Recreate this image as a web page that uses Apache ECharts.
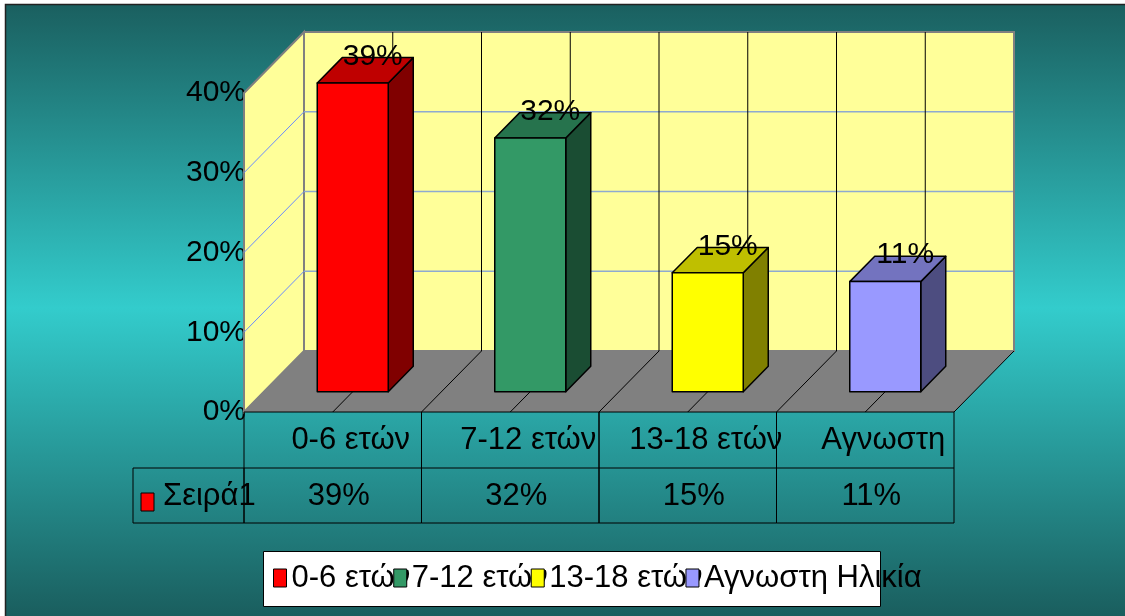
<!DOCTYPE html>
<html>
<head>
<meta charset="utf-8">
<script src="https://cdn.jsdelivr.net/npm/echarts@6/dist/echarts.min.js"></script>
<style>
html,body{margin:0;padding:0;background:#fff;}
#chart{width:1125px;height:616px;}
</style>
</head>
<body>
<div id="chart"></div>
<script>
// ---- data ----
const categories = ['0-6 ετών', '7-12 ετών', '13-18 ετών', 'Αγνωστη Ηλικία'];
const tableHeaders = ['0-6 ετών', '7-12 ετών', '13-18 ετών', 'Αγνωστη'];
const values = [38.7, 31.8, 14.9, 13.8];
const valueLabels = ['39%', '32%', '15%', '11%'];
const seriesName = 'Σειρά1';
const yTicks = [0, 10, 20, 30, 40];

// ---- styles ----
const frontColors = ['#ff0000', '#339966', '#ffff00', '#9999ff'];
const topColors = ['#bf0000', '#26734d', '#bfbf00', '#7373bf'];
const sideColors = ['#800000', '#1a4d33', '#808000', '#4d4d80'];
const FONT = 'Liberation Sans, Arial, sans-serif';
const DX = 60, DY = -61;          // depth of the 3D box
const BAR_T0 = 1 / 3, BAR_T1 = 0.75; // bar depth fractions
const BAR_W = 0.4;                // bar width as share of band
const yMax = yTicks[yTicks.length - 1];

const chart = echarts.init(document.getElementById('chart'), null, {renderer: 'canvas'});

function wallsRender(params, api) {
  const n = categories.length;
  const bw = api.size([1, 0])[0];
  const p0 = api.coord([0, 0]);
  const x0 = p0[0] - bw / 2, x1 = x0 + n * bw;
  const yB = p0[1], yT = api.coord([0, yMax])[1];
  const ch = [];
  // back wall
  ch.push({type: 'polygon', shape: {points: [[x0 + DX, yB + DY], [x1 + DX, yB + DY], [x1 + DX, yT + DY], [x0 + DX, yT + DY]]},
    style: {fill: '#ffff99', stroke: '#808080', lineWidth: 2}});
  // left wall
  ch.push({type: 'polygon', shape: {points: [[x0, yB], [x0, yT], [x0 + DX, yT + DY], [x0 + DX, yB + DY]]},
    style: {fill: '#ffff99', stroke: '#808080', lineWidth: 2}});
  // gridlines
  yTicks.forEach(function (t) {
    if (t === 0 || t === yMax) return;
    const y = api.coord([0, t])[1];
    ch.push({type: 'line', shape: {x1: x0 + DX, y1: y + DY, x2: x1 + DX, y2: y + DY}, style: {stroke: '#8eaad0', lineWidth: 1.5}});
    ch.push({type: 'line', shape: {x1: x0, y1: y, x2: x0 + DX, y2: y + DY}, style: {stroke: '#6b8cff', lineWidth: 1}});
  });
  // back wall verticals
  for (let k = 1; k < 2 * n; k++) {
    const x = x0 + k * bw / 2 + DX;
    ch.push({type: 'line', shape: {x1: x, y1: yB + DY, x2: x, y2: yT + DY}, style: {stroke: '#000', lineWidth: 1}});
  }
  // floor
  ch.push({type: 'polygon', shape: {points: [[x0, yB], [x1, yB], [x1 + DX, yB + DY], [x0 + DX, yB + DY]]},
    style: {fill: '#808080', stroke: null}});
  for (let k = 1; k < 2 * n; k++) {
    const x = x0 + k * bw / 2;
    ch.push({type: 'line', shape: {x1: x, y1: yB, x2: x + DX, y2: yB + DY}, style: {stroke: '#000', lineWidth: 1}});
  }
  ch.push({type: 'line', shape: {x1: x1, y1: yB, x2: x1 + DX, y2: yB + DY}, style: {stroke: '#000', lineWidth: 1}});
  ch.push({type: 'line', shape: {x1: x1 + DX, y1: yB + DY, x2: x1 + DX, y2: yT + DY}, style: {stroke: '#808080', lineWidth: 2}});
  return {type: 'group', children: ch};
}

function barRender(idx) {
  return function (params, api) {
    const i = api.value(0), v = api.value(1);
    const bw = api.size([1, 0])[0];
    const c = api.coord([i, 0]);
    const top = api.coord([i, v])[1];
    const yB = c[1];
    const w = bw * BAR_W;
    const xl = c[0] - w / 2, xr = c[0] + w / 2;
    const fx = DX * BAR_T0, fy = DY * BAR_T0, bx = DX * BAR_T1, by = DY * BAR_T1;
    const st = {stroke: '#000', lineWidth: 1.5, lineJoin: 'round'};
    return {type: 'group', children: [
      {type: 'polygon', shape: {points: [[xr + fx, top + fy], [xr + bx, top + by], [xr + bx, yB + by], [xr + fx, yB + fy]]},
        style: Object.assign({fill: sideColors[idx]}, st)},
      {type: 'polygon', shape: {points: [[xl + fx, top + fy], [xr + fx, top + fy], [xr + bx, top + by], [xl + bx, top + by]]},
        style: Object.assign({fill: topColors[idx]}, st)},
      {type: 'rect', shape: {x: xl + fx, y: top + fy, width: w, height: yB - top}, style: Object.assign({fill: frontColors[idx]}, st)},
      {type: 'text', z2: 50, style: {text: valueLabels[idx], x: c[0] + bx - 5, y: top + by - 1, align: 'center', verticalAlign: 'middle',
        fontSize: 30, fontFamily: FONT, fill: '#000'}}
    ]};
  };
}

function tableRender(params, api) {
  const i = api.value(0);
  const bw = api.size([1, 0])[0];
  const c = api.coord([i, 0]);
  const xl = c[0] - bw / 2, xr = c[0] + bw / 2;
  const yT = c[1], r1 = yT + 56, r2 = r1 + 55;
  const ln = {stroke: '#000', lineWidth: 1};
  const ch = [
    {type: 'line', shape: {x1: xl, y1: yT, x2: xl, y2: r2}, style: ln},
    {type: 'line', shape: {x1: xr, y1: yT, x2: xr, y2: r2}, style: ln},
    {type: 'line', shape: {x1: xl, y1: yT, x2: xr, y2: yT}, style: ln},
    {type: 'line', shape: {x1: xl, y1: r1, x2: xr, y2: r1}, style: ln},
    {type: 'line', shape: {x1: xl, y1: r2, x2: xr, y2: r2}, style: ln},
    {type: 'text', style: {text: tableHeaders[i], x: c[0] + 18, y: (yT + r1) / 2, align: 'center', verticalAlign: 'middle',
      fontSize: 31, fontFamily: FONT, fill: '#000'}},
    {type: 'text', style: {text: valueLabels[i], x: c[0] + 6, y: (r1 + r2) / 2 + 1, align: 'center', verticalAlign: 'middle',
      fontSize: 31, fontFamily: FONT, fill: '#000'}}
  ];
  if (i === 0) {
    const hx = xl - 111;
    ch.push({type: 'rect', shape: {x: hx, y: r1, width: xl - hx, height: r2 - r1}, style: {fill: null, stroke: '#000', lineWidth: 1}});
    ch.push({type: 'rect', shape: {x: hx + 8, y: r1 + 25, width: 13, height: 18}, style: {fill: frontColors[0], stroke: '#000', lineWidth: 1}});
    ch.push({type: 'text', style: {text: seriesName, x: hx + 30, y: (r1 + r2) / 2 + 1, align: 'left', verticalAlign: 'middle',
      fontSize: 31, fontFamily: FONT, fill: '#000'}});
  }
  return {type: 'group', children: ch};
}

const series = [
  {type: 'custom', name: '__walls', coordinateSystem: 'cartesian2d', data: [[0, 0]], renderItem: wallsRender,
    clip: false, silent: true, z: 1}
];
categories.forEach(function (name, idx) {
  series.push({type: 'custom', name: name, coordinateSystem: 'cartesian2d', data: [[idx, values[idx]]],
    renderItem: barRender(idx), itemStyle: {color: frontColors[idx]}, clip: false, silent: true, z: 3});
});
series.push({type: 'custom', name: '__table', coordinateSystem: 'cartesian2d',
  data: values.map(function (v, i) { return [i, v]; }), renderItem: tableRender, clip: false, silent: true, z: 2});

const option = {
  animation: false,
  color: frontColors,
  backgroundColor: new echarts.graphic.LinearGradient(0, 0, 0, 1, [
    {offset: 0, color: '#1a5e5e'}, {offset: 0.5, color: '#33cccc'}, {offset: 1, color: '#1a5e5e'}
  ]),
  grid: {left: 244, right: 171, top: 93, bottom: 204, containLabel: false},
  xAxis: {type: 'category', data: categories, axisLine: {show: false}, axisTick: {show: false}, axisLabel: {show: false}, splitLine: {show: false}},
  yAxis: {type: 'value', min: 0, max: yMax, interval: 10,
    axisLine: {show: true, lineStyle: {color: '#000', width: 1}}, axisTick: {show: false}, splitLine: {show: false},
    axisLabel: {formatter: '{value}%', fontSize: 30, fontFamily: FONT, color: '#000', margin: -2}},
  legend: {
    data: categories, left: 273, top: 562, padding: 0, itemGap: -17, itemWidth: 13, itemHeight: 18, icon: 'rect',
    selectedMode: false, z: 10,
    itemStyle: {borderColor: '#000', borderWidth: 1},
    textStyle: {fontSize: 31, fontFamily: FONT, color: '#000', lineHeight: 32}
  },
  graphic: [
    {type: 'rect', z: 5, shape: {x: 0, y: 0, width: 1125, height: 4}, style: {fill: '#fff'}},
    {type: 'rect', z: 5, shape: {x: 0, y: 0, width: 5, height: 616}, style: {fill: '#fff'}},
    {type: 'rect', z: 5, shape: {x: 5.5, y: 4.5, width: 1200, height: 700}, style: {fill: null, stroke: '#222', lineWidth: 1.5}},
    {type: 'rect', z: 5, shape: {x: 263.5, y: 551.5, width: 617, height: 55}, style: {fill: '#fff', stroke: '#000', lineWidth: 1}}
  ],
  series: series
};
chart.setOption(option);
</script>
</body>
</html>
